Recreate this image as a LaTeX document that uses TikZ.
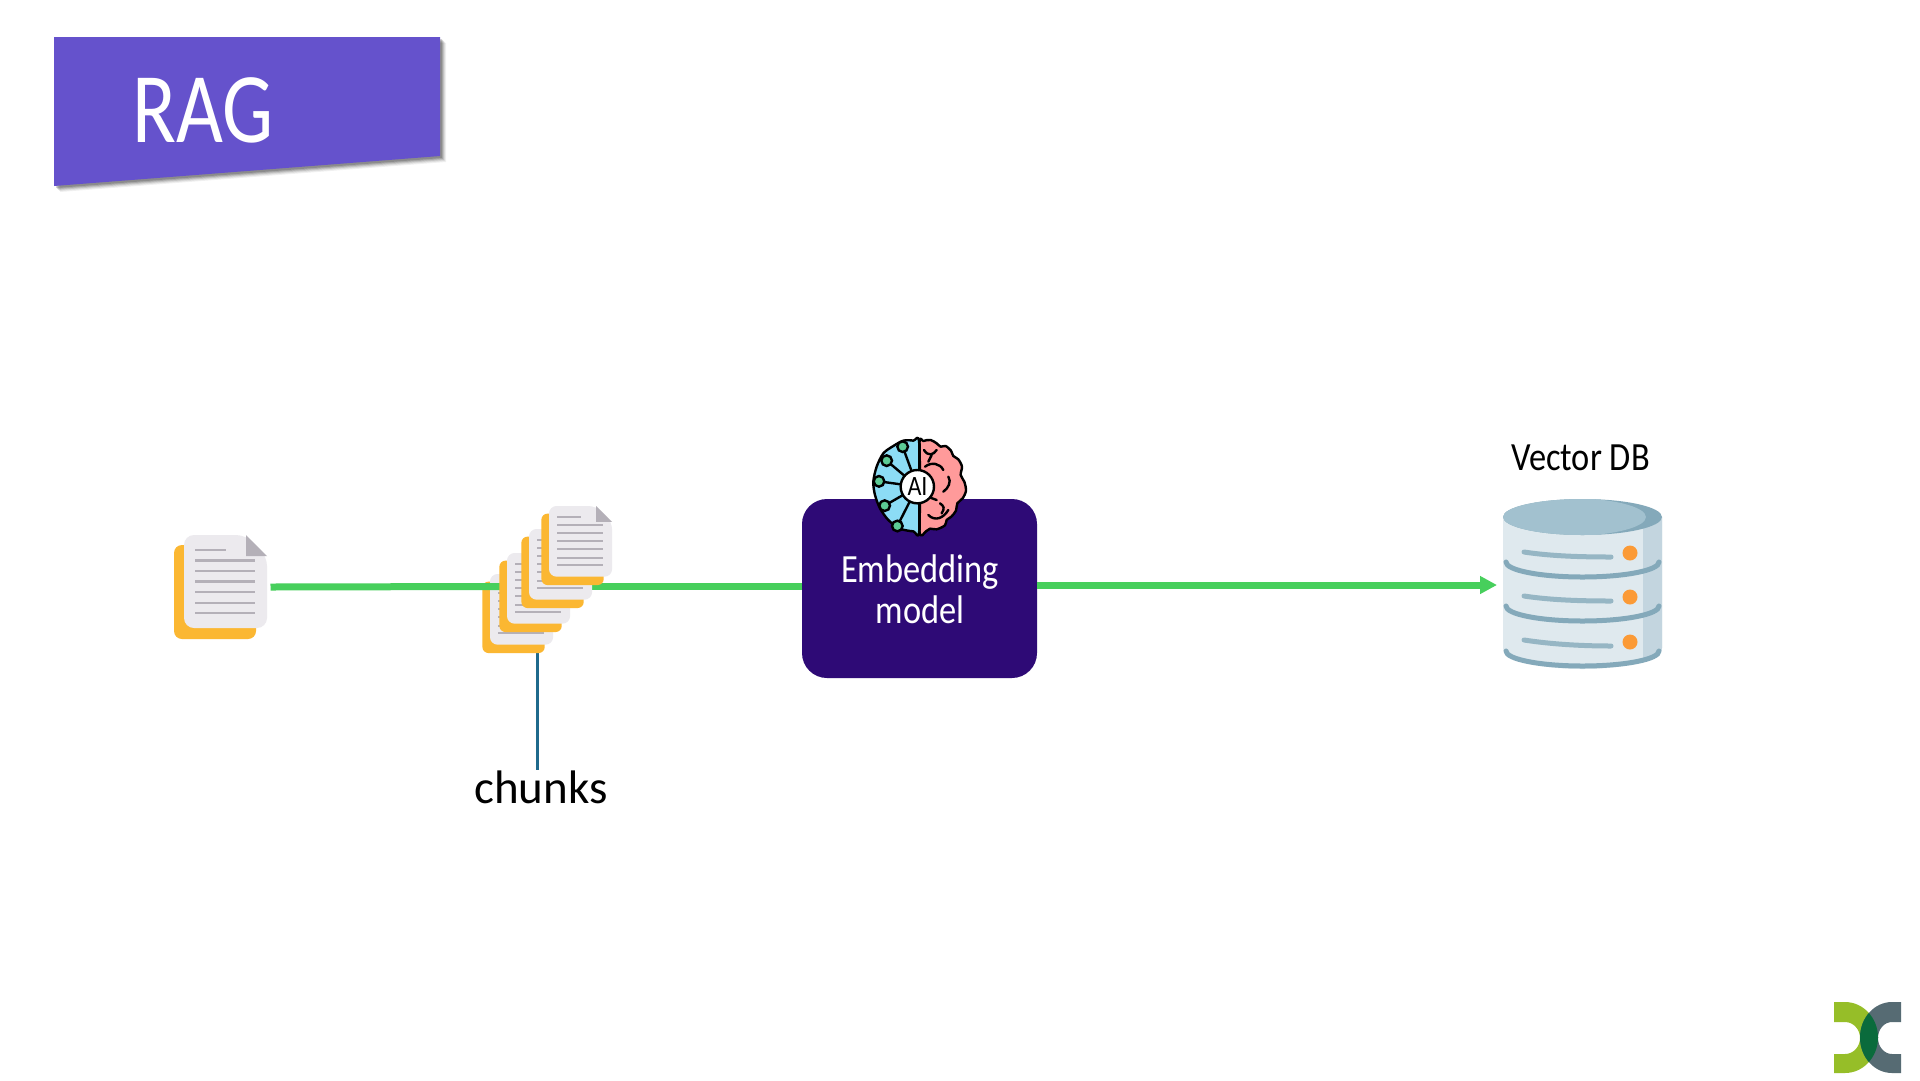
\documentclass[tikz,border=0pt]{standalone}
\usepackage{fontspec}
\setmainfont[FakeStretch=0.86]{Carlito}
\newfontfamily\titlefont[FakeStretch=0.81]{Carlito}
\newfontfamily\plainfont{Carlito}
\usetikzlibrary{arrows.meta}
\definecolor{banner}{HTML}{6552CC}
\definecolor{boxfill}{HTML}{2E0A76}
\definecolor{flow}{HTML}{47CF5C}
\definecolor{leader}{HTML}{1F6A8C}
\definecolor{pagefill}{HTML}{ECEAEE}
\definecolor{pageline}{HTML}{B4B0B8}
\definecolor{backpage}{HTML}{FBB732}
\definecolor{dbtop}{HTML}{A2C1CF}
\definecolor{dbdark}{HTML}{84A9BA}
\definecolor{dbbody}{HTML}{DFE9EE}
\definecolor{dbside}{HTML}{C3D5DF}
\definecolor{dbdot}{HTML}{FB9A36}
\definecolor{brainblue}{HTML}{8CDCF5}
\definecolor{brainpink}{HTML}{FF9A9A}
\definecolor{brainnode}{HTML}{5CCB95}
\definecolor{logogreen}{HTML}{96BE28}
\definecolor{logogrey}{HTML}{566B73}
\definecolor{logolens}{HTML}{0A6B3C}
\tikzset{
  flowline/.style={draw=flow,line width=7pt},
  anchorbox/.style={inner sep=0pt,outer sep=0pt,minimum width=#1},
  brainline/.style={draw=black,line width=2.4pt,line cap=round,line join=round},
  gnode/.style={fill=brainnode,draw=black,line width=2.4pt},
  dbband/.style={draw=dbdark,line width=5pt,line cap=round},
  dbdash/.style={draw=dbdark!85!white,line width=5pt,line cap=round},
}
% page icon: #1,#2 = left/top of the front page, #3 = scale (1 = 83 px wide page)
\newcommand{\docicon}[3]{%
  \begin{scope}[shift={(#1,#2)},x=#3pt,y=-#3pt]
    \fill[backpage,rounded corners=8*#3pt] (-10,10) rectangle (72,104);
    \fill[pagefill,rounded corners=10*#3pt] (0,0) -- (62,0) -- (83,21) -- (83,93) -- (0,93) -- cycle;
    \fill[pageline] (62,0) -- (83,21) -- (62,21) -- cycle;
    \foreach \yy in {25.5,36,46.5,57,68,78}
      \draw[pageline,line width=2*#3pt+.4pt] (11,\yy) -- (71,\yy);
    \draw[pageline,line width=2*#3pt+.4pt] (11,15) -- (42,15);
  \end{scope}}
\begin{document}
\begin{tikzpicture}[x=1pt,y=-1pt]
\useasboundingbox (0,0) rectangle (1920,1080);
\fill[white] (0,0) rectangle (1920,1080);

% title banner with soft shadow
\foreach \oo/\op in {6/.06,5/.08,4/.11,3/.14,2/.17}
  \fill[black,opacity=\op] (54+\oo,37+\oo) -- (440+\oo,37+\oo) -- (440+\oo,156+\oo) -- (54+\oo,186+\oo) -- cycle;
\fill[banner] (54,37) -- (440,37) -- (440,156) -- (54,186) -- cycle;
\node[anchor=base west,inner sep=0pt,text=white,font=\titlefont\fontsize{100}{100}\selectfont] (title) at (132,142) {RAG};

% anchors for connectors
\node[anchorbox=100pt,minimum height=104pt] (doc) at (220.5,587) {};
\node[anchorbox=75.4pt,minimum height=133pt] (chunks) at (537.7,586.5) {};
\node[anchorbox=235pt,minimum height=179pt,fill=boxfill,rounded corners=25pt] (box) at (919.5,588.5) {};
\node[anchorbox=171pt,minimum height=172pt] (db) at (1582.5,585) {};
\node[anchor=base,inner sep=0pt,font=\plainfont\fontsize{47}{47}\selectfont] (chunkslabel) at (541,803) {chunks};

% documents and connectors, in stacking order
\draw[flowline] (chunks.east) -- (chunks.east -| box.west);
\draw[flowline,-{Triangle[length=17pt,width=17pt]}] (box.east |- db.west) -- (db.west);
\draw[leader,line width=3.5pt] (chunks.south) -- (chunks.south |- chunkslabel.north);
\docicon{184}{535}{1}
\docicon{490}{574}{.76}
\draw[flowline] (doc.east) -- (chunks.west);
\docicon{507}{553}{.76}
\docicon{529}{529}{.76}
\docicon{549}{506}{.76}

% embedding box text
\node[text=white,align=center,inner sep=0pt,anchor=base,font=\fontsize{40}{41}\selectfont] (boxtext) at (920,623) {Embedding\\model};

% brain
\begin{scope}[shift={(780,420)},x=.3333pt,y=-.3333pt]
  \filldraw[fill=brainpink,brainline] plot[smooth cycle,tension=.5] coordinates {(418,75)(430,63)(452,60)(470,70)(482,80)(497,78)(513,92)(520,108)(535,118)(546,140)(542,165)(553,185)(558,212)(548,235)(532,250)(528,272)(514,290)(500,300)(495,316)(470,328)(450,326)(438,334)(418,330)};
  \filldraw[fill=brainblue,brainline] plot[smooth cycle,tension=.5] coordinates {(418,72)(400,62)(370,62)(340,78)(310,100)(290,140)(280,185)(285,225)(300,265)(325,300)(360,326)(400,334)(418,330)};
  \draw[brainline] (418,72) -- (418,330);
  \draw[brainline] (412,200) -- (368,80);
  \draw[brainline] (412,200) -- (320,122);
  \draw[brainline] (412,200) -- (297,184);
  \draw[brainline] (412,200) -- (314,257);
  \draw[brainline] (412,200) -- (352,318);
  \draw[brainline] (432,90) .. controls (445,110) and (460,105) .. (470,90);
  \draw[brainline] (455,105) -- (445,125);
  \draw[brainline] (435,140) .. controls (455,125) and (480,130) .. (490,150);
  \draw[brainline] (505,170) .. controls (515,185) and (505,205) .. (490,215);
  \draw[brainline] (445,285) .. controls (465,305) and (490,295) .. (505,270);
  \draw[brainline] (480,250) .. controls (492,258) and (495,265) .. (485,280);
  \draw[brainline] (430,225) -- (470,240);
  \foreach \px/\py in {368/80,320/122,297/184,314/257,352/318}
    \filldraw[gnode] (\px,\py) circle[radius=16];
  \filldraw[fill=white,brainline] (412,200) circle[radius=50];
\end{scope}
\node[inner sep=0pt,font=\fontsize{28}{28}\selectfont] (ailabel) at (917.5,487) {AI};

% database
\node[anchor=base,inner sep=0pt,font=\fontsize{40}{40}\selectfont] (dblabel) at (1580.5,470) {Vector DB};
\begin{scope}
  \fill[dbbody] (1503,517) -- (1662,517) -- (1662,648) arc[start angle=0,end angle=180,x radius=79.5,y radius=21] -- cycle;
  \begin{scope}
    \clip (1503,517) -- (1662,517) -- (1662,648) arc[start angle=0,end angle=180,x radius=79.5,y radius=21] -- cycle;
    \fill[dbside] (1643,500) rectangle (1665,680);
  \end{scope}
  \draw[dbband] (1506,562) arc[start angle=180,end angle=0,x radius=76.5,y radius=15];
  \draw[dbband] (1506,606) arc[start angle=180,end angle=0,x radius=76.5,y radius=15];
  \draw[dbband] (1506,651) arc[start angle=180,end angle=0,x radius=76.5,y radius=15];
  \fill[dbdark] (1582.5,517) ellipse[x radius=79.5,y radius=18];
  \begin{scope}
    \clip (1582.5,517) ellipse[x radius=79.5,y radius=18];
    \fill[dbtop] (1568,517) ellipse[x radius=78,y radius=19];
  \end{scope}
  \draw[dbdash] (1524,552) .. controls (1550,556) and (1580,557) .. (1611,557);
  \draw[dbdash] (1524,596) .. controls (1550,600) and (1580,601) .. (1611,601);
  \draw[dbdash] (1524,640) .. controls (1550,644) and (1580,646) .. (1611,646);
  \foreach \dy in {553,597,642}
    \fill[dbdot] (1630,\dy) circle[radius=7.5];
\end{scope}

% logo
\fill[logogreen] (1834,1002) -- (1845,1002) arc[start angle=-90,end angle=90,x radius=33,y radius=35.5] -- (1834,1073) -- (1834,1054) -- (1845,1054) arc[start angle=90,end angle=-90,x radius=15,y radius=16] -- (1834,1022) -- cycle;
\fill[logogrey] (1901,1002) -- (1892,1002) arc[start angle=-90,end angle=-270,x radius=32,y radius=35.5] -- (1901,1073) -- (1901,1054) -- (1892,1054) arc[start angle=-270,end angle=-90,x radius=14,y radius=16] -- (1901,1022) -- cycle;
\begin{scope}
  \clip (1845,1037.5) ellipse[x radius=33,y radius=35.5];
  \fill[logolens] (1892,1037.5) ellipse[x radius=32,y radius=35.5];
\end{scope}
\end{tikzpicture}
\end{document}
